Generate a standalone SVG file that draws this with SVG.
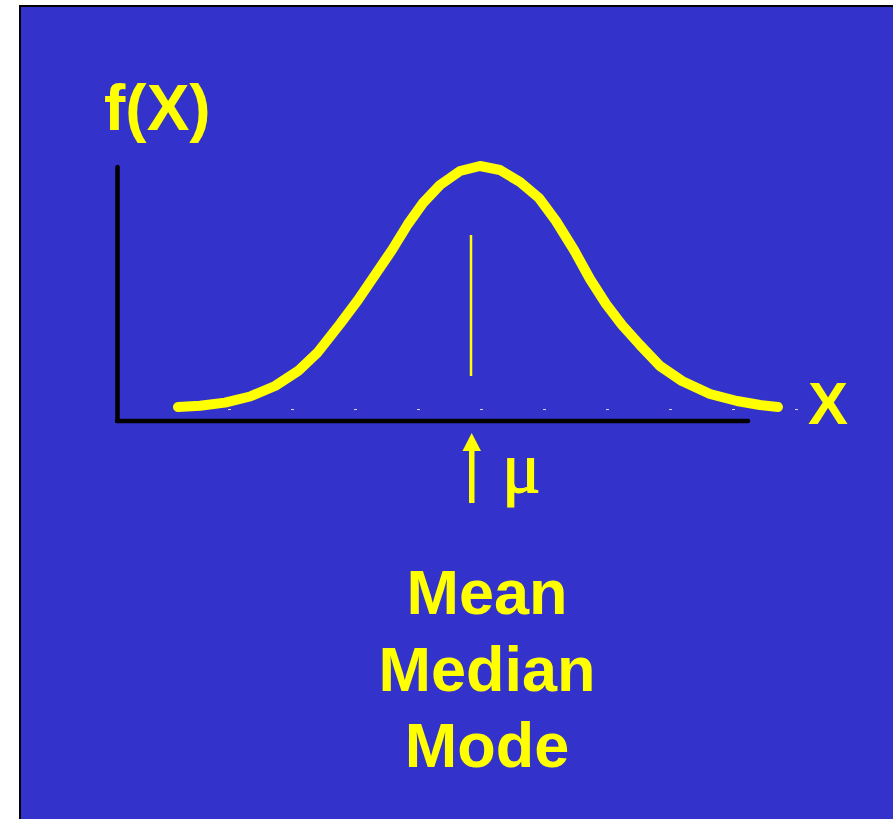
<svg xmlns="http://www.w3.org/2000/svg" width="893" height="819" viewBox="0 0 893 819">
<style>
.lbl{font-family:"Liberation Sans",Arial,sans-serif;font-weight:bold;fill:#FFFF00}
.axis{stroke:#000;stroke-width:4.5;stroke-linecap:round;fill:none}
.tick{stroke:#D8D8F0;stroke-width:1}
</style>
<rect x="0" y="0" width="893" height="819" fill="#FFFFFF"/>
<rect x="20" y="6" width="880" height="820" fill="#3333CC" stroke="#000" stroke-width="2"/>
<g id="title"><text class="lbl" x="104" y="130" font-size="64">f(X)</text></g>
<g id="axes">
<line class="axis" x1="117.5" y1="167" x2="117.5" y2="421"/>
<line class="axis" x1="117" y1="421" x2="748" y2="421"/>
</g>
<g id="ticks">
<line class="tick" x1="228" y1="409.5" x2="231" y2="409.5"/>
<line class="tick" x1="291" y1="409.5" x2="294" y2="409.5"/>
<line class="tick" x1="354" y1="409.5" x2="357" y2="409.5"/>
<line class="tick" x1="417" y1="409.5" x2="420" y2="409.5"/>
<line class="tick" x1="480" y1="409.5" x2="483" y2="409.5"/>
<line class="tick" x1="543" y1="409.5" x2="546" y2="409.5"/>
<line class="tick" x1="606" y1="409.5" x2="609" y2="409.5"/>
<line class="tick" x1="669" y1="409.5" x2="672" y2="409.5"/>
<line class="tick" x1="732" y1="409.5" x2="735" y2="409.5"/>
<line class="tick" x1="795" y1="409.5" x2="798" y2="409.5"/>
</g>
<g id="curve">
<polyline fill="none" stroke="#FFFF00" stroke-width="10" stroke-linecap="round" stroke-linejoin="round" points="178,407 200,405.8 225,402.6 250,396.5 275,386 298,371 318,352 340,324 358,300 375,275 392,250 408,224 423,203 440,185 460,171 480,166 500,170 520,182 539,198 556,221 574,250 590,279 606,304 622,325 640,345 660,366 682,381 710,394 737,401 760,405 778,407"/>
</g>
<g id="mean-line"><line x1="471" y1="235" x2="471" y2="376" stroke="#FFFF00" stroke-width="2.5"/></g>
<g id="xlabel"><text class="lbl" x="808" y="424" font-size="60">X</text></g>
<g id="mu-arrow">
<rect x="469" y="448" width="5.5" height="55" fill="#FFFF00"/>
<polygon points="471.7,433 481,451 462.5,451" fill="#FFFF00"/>
<text x="502" y="492" font-family="'Liberation Serif','Times New Roman',serif" font-size="72" fill="#FFFF00" stroke="#FFFF00" stroke-width="1.2">μ</text>
</g>
<g id="labels">
<text class="lbl" x="487" y="614" font-size="63" text-anchor="middle">Mean</text>
<text class="lbl" x="487" y="691" font-size="63" text-anchor="middle">Median</text>
<text class="lbl" x="487" y="767" font-size="63" text-anchor="middle">Mode</text>
</g>
</svg>
